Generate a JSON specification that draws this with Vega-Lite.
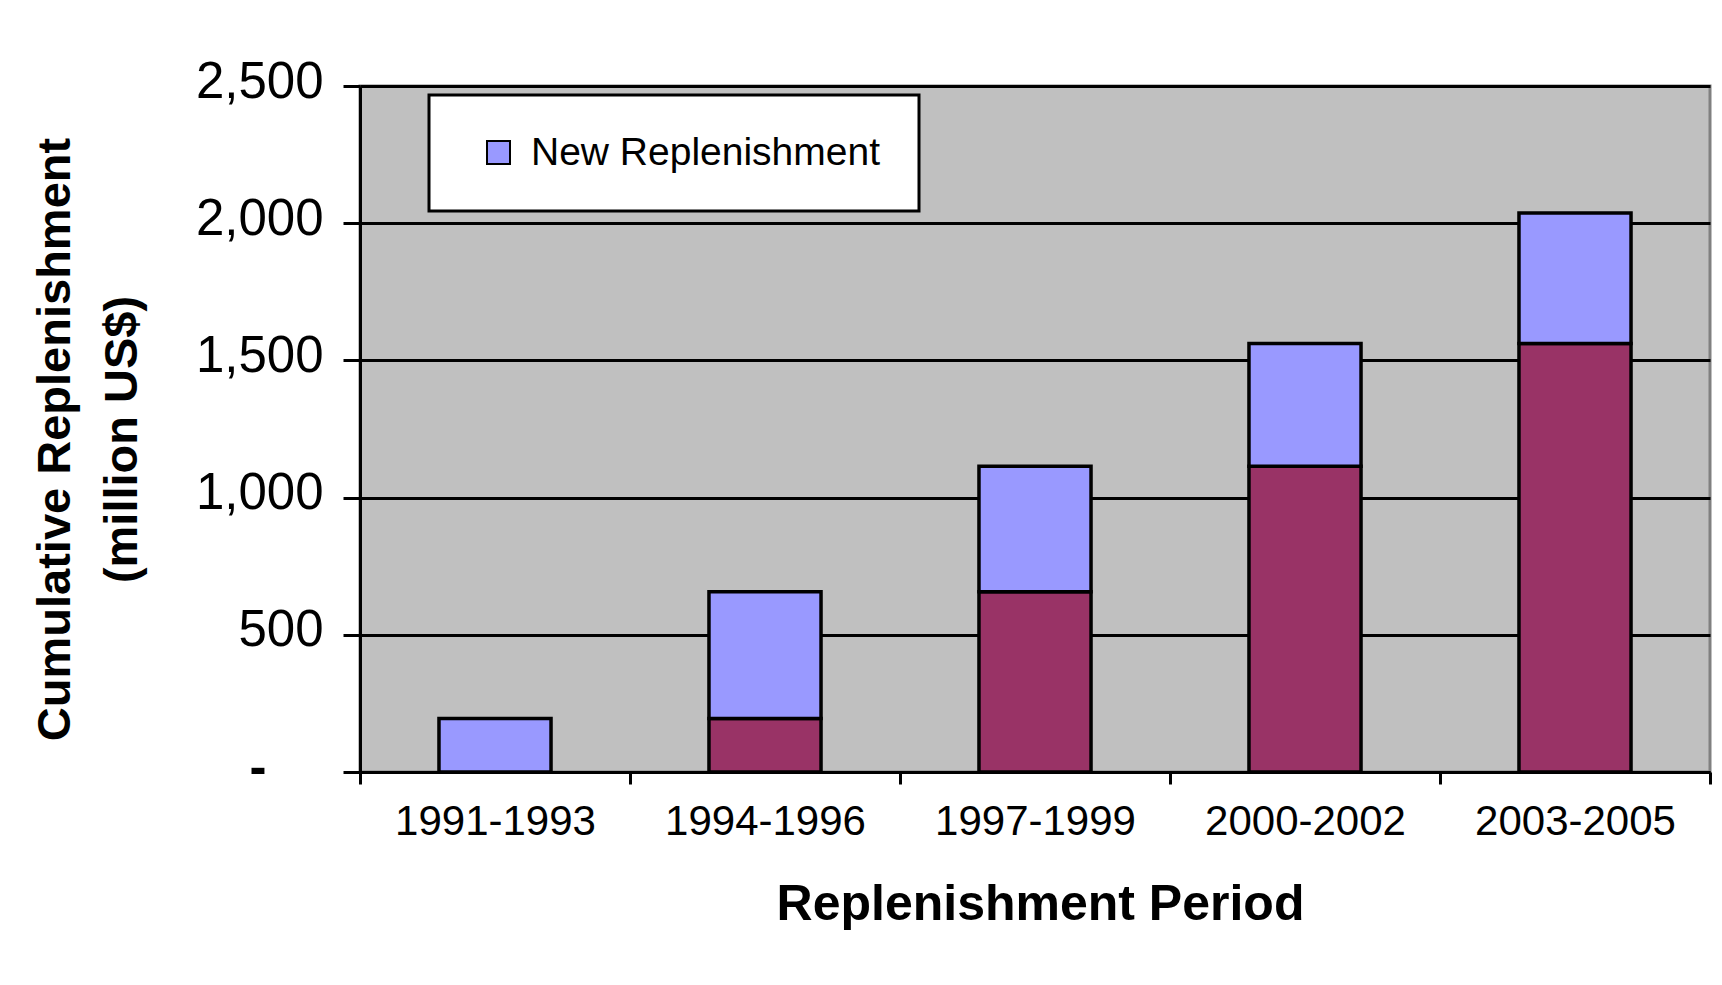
{
  "$schema": "https://vega.github.io/schema/vega-lite/v6.json",
  "width": 1350,
  "height": 686,
  "autosize": "none",
  "padding": {"left": 360, "top": 86, "right": 12, "bottom": 213},
  "background": "white",
  "config": {
    "view": {"fill": "#C0C0C0", "stroke": "#808080", "strokeWidth": 3},
    "font": "Liberation Sans"
  },
  "data": {
    "values": [
      {"period": "1991-1993", "series": "New Replenishment", "ord": 1, "value": 195},
      {"period": "1994-1996", "series": "Prior", "ord": 0, "value": 195},
      {"period": "1994-1996", "series": "New Replenishment", "ord": 1, "value": 462},
      {"period": "1997-1999", "series": "Prior", "ord": 0, "value": 657},
      {"period": "1997-1999", "series": "New Replenishment", "ord": 1, "value": 457},
      {"period": "2000-2002", "series": "Prior", "ord": 0, "value": 1114},
      {"period": "2000-2002", "series": "New Replenishment", "ord": 1, "value": 448},
      {"period": "2003-2005", "series": "Prior", "ord": 0, "value": 1562},
      {"period": "2003-2005", "series": "New Replenishment", "ord": 1, "value": 475}
    ]
  },
  "mark": {"type": "bar", "stroke": "black", "strokeWidth": 3.5, "width": {"band": 0.415}},
  "encoding": {
    "x": {
      "field": "period",
      "type": "nominal",
      "sort": null,
      "scale": {"paddingInner": 0, "paddingOuter": 0},
      "axis": {
        "title": "Replenishment Period",
        "labelAngle": 0,
        "labelLimit": 0,
        "tickBand": "extent",
        "tickSize": 12,
        "tickWidth": 3,
        "tickColor": "black",
        "domainColor": "black",
        "domainWidth": 3,
        "labelFont": "Liberation Sans",
        "labelFontSize": 42,
        "labelColor": "black",
        "labelPadding": 37,
        "labelBaseline": "middle",
        "titleFont": "Liberation Sans",
        "titleFontSize": 50,
        "titleFontWeight": "bold",
        "titleColor": "black",
        "titleX": 680,
        "titleY": 132,
        "titleAlign": "center",
        "titleBaseline": "middle"
      }
    },
    "y": {
      "field": "value",
      "type": "quantitative",
      "stack": "zero",
      "scale": {"domain": [0, 2500], "nice": false},
      "axis": {
        "title": ["Cumulative Replenishment", "(million US$)"],
        "values": [0, 500, 1000, 1500, 2000, 2500],
        "labelExpr": "datum.value == 0 ? '-' : format(datum.value, ',')",
        "labelFont": "Liberation Sans",
        "labelFontSize": 51,
        "labelFontWeight": {"condition": {"test": "datum.value == 0", "value": "bold"}, "value": "normal"},
        "labelColor": "black",
        "labelPadding": {"condition": {"test": "datum.value == 0", "value": 77}, "value": 20},
        "labelBaseline": "middle",
        "labelOffset": -4,
        "tickSize": 17,
        "tickWidth": 3,
        "tickColor": "black",
        "domainColor": "black",
        "domainWidth": 3,
        "grid": true,
        "gridColor": "black",
        "gridWidth": 3,
        "titleFont": "Liberation Sans",
        "titleFontSize": 47,
        "titleFontWeight": "bold",
        "titleColor": "black",
        "titleLineHeight": 67,
        "titleAngle": -90,
        "titleX": -305,
        "titleY": 353,
        "titleAlign": "center",
        "titleBaseline": "middle"
      }
    },
    "color": {
      "field": "series",
      "type": "nominal",
      "scale": {"domain": ["New Replenishment", "Prior"], "range": ["#9999FF", "#993366"]},
      "legend": {
        "values": ["New Replenishment"],
        "title": null,
        "orient": "none",
        "legendX": 69,
        "legendY": 9,
        "fillColor": "white",
        "strokeColor": "black",
        "padding": 38,
        "symbolType": "square",
        "symbolSize": 529,
        "symbolStrokeColor": "black",
        "symbolStrokeWidth": 2,
        "symbolOffset": 12,
        "labelFont": "Liberation Sans",
        "labelFontSize": 39,
        "labelColor": "black",
        "labelOffset": 13,
        "labelLimit": 0,
        "encode": {"legend": {"update": {"strokeWidth": {"value": 3}}}}
      }
    },
    "order": {"field": "ord", "type": "quantitative"}
  }
}
